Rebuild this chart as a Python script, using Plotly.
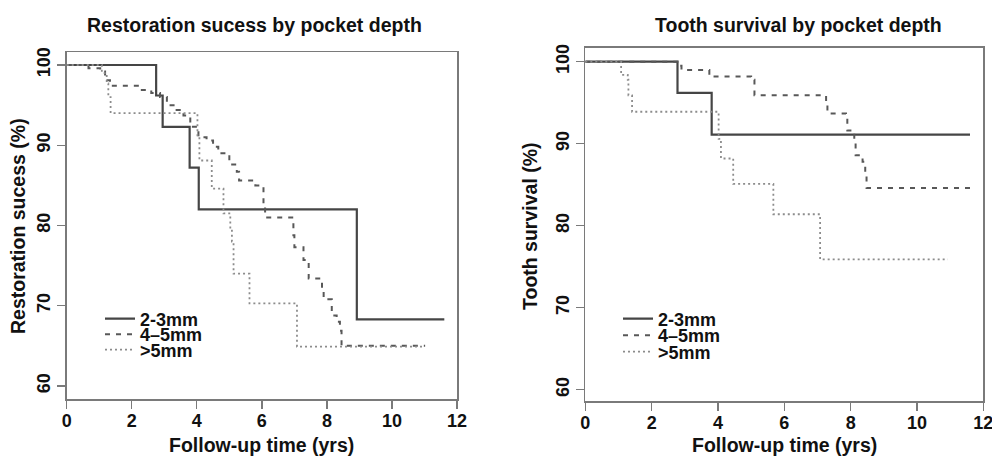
import plotly.graph_objects as go

# ---- Data ----
groups = ["2-3mm", "4–5mm", ">5mm"]

# Left panel: Restoration success
rs_23_t = [0, 2.75, 2.95, 3.78, 4.06, 8.92, 11.61]
rs_23_v = [100, 96.2, 92.3, 87.2, 82.0, 68.3, 68.3]

rs_45_t = [0, 0.67, 1.03, 1.18, 1.33, 2.26, 2.6, 2.87, 3.08, 3.38, 3.59, 3.8, 4.05, 4.3, 4.5,
           4.66, 5.0, 5.23, 5.3, 5.8, 6.05, 6.1, 6.97, 7.0, 7.28, 7.44, 7.85, 7.9, 8.15, 8.3,
           8.4, 8.45, 11.02]
rs_45_v = [100, 99.6, 99.2, 98.1, 97.4, 96.9, 96.5, 96.0, 95.0, 94.4, 93.7, 92.3, 91.0, 90.6, 89.8,
           89.0, 87.6, 86.7, 85.6, 85.0, 82.5, 81.0, 78.8, 77.3, 75.7, 73.4, 72.1, 70.8, 68.8, 68.0,
           66.9, 65.0, 65.0]

rs_5_t = [0, 1.08, 1.23, 1.28, 1.35, 4.02, 4.08, 4.46, 4.82, 5.03, 5.08, 5.13, 5.62, 7.08, 11.0]
rs_5_v = [100, 99.0, 97.7, 96.0, 94.0, 91.0, 88.1, 84.6, 81.5, 79.6, 78.0, 74.0, 70.3, 64.9, 64.9]

# Right panel: Tooth survival
ts_23_t = [0, 2.78, 3.81, 11.6]
ts_23_v = [100, 96.2, 91.1, 91.1]

ts_45_t = [0, 2.83, 2.9, 3.74, 5.0, 5.1, 7.26, 7.3, 7.86, 7.9, 8.11, 8.15, 8.36, 8.44, 8.48, 11.63]
ts_45_v = [100, 99.5, 99.0, 98.2, 97.8, 95.9, 94.9, 93.7, 93.1, 91.6, 90.4, 88.6, 87.8, 86.3, 84.6, 84.6]

ts_5_t = [0, 1.08, 1.28, 1.3, 1.41, 4.02, 4.09, 4.46, 5.67, 7.08, 10.93]
ts_5_v = [100, 98.4, 97.8, 95.9, 93.9, 90.6, 88.2, 85.1, 81.4, 75.9, 75.9]

x_ticks = [0, 2, 4, 6, 8, 10, 12]
y_ticks = [60, 70, 80, 90, 100]

titles = ["Restoration sucess by pocket depth", "Tooth survival by pocket depth"]
y_titles = ["Restoration sucess (%)", "Tooth survival (%)"]
x_title = "Follow-up time (yrs)"

# ---- Layout geometry (screen px of the 992x456 window) ----
FONT = "Liberation Sans, Arial, sans-serif"
OFF = 0
W, H = 992, 456


def px(sx):
    return (sx - OFF) / W


def py(sy):
    return (H - (sy - OFF)) / H


styles = [
    dict(color="#454545", width=2.2, dash="solid"),
    dict(color="#585858", width=2.0, dash="5px,6px"),
    dict(color="#8c8c8c", width=1.8, dash="2px,3px"),
]

fig = go.Figure()

panels = [
    ([(rs_23_t, rs_23_v), (rs_45_t, rs_45_v), (rs_5_t, rs_5_v)], "x", "y"),
    ([(ts_23_t, ts_23_v), (ts_45_t, ts_45_v), (ts_5_t, ts_5_v)], "x2", "y2"),
]

# one legend per entry so the rows can be spaced tightly like the original
legend_x = [100, 618]
legend_rows = [[319, 334.5, 350], [319, 335.5, 352]]
legend_layout = {}
k = 1
for p, (series, xa, ya) in enumerate(panels):
    for i, (name, (t, v), st) in enumerate(zip(groups, series, styles)):
        k += 1
        lname = f"legend{k}"
        fig.add_trace(go.Scatter(
            x=t, y=v, mode="lines", line=dict(shape="hv", **st),
            name=name, xaxis=xa, yaxis=ya, legend=lname, hoverinfo="skip",
        ))
        legend_layout[lname] = dict(
            x=px(legend_x[p]), y=py(legend_rows[p][i]), xanchor="left", yanchor="middle",
            bgcolor="rgba(0,0,0,0)", font=dict(family=FONT, size=18, weight="bold", color="#111111"),
            itemwidth=30, tracegroupgap=0,
        )

axis_common = dict(
    showgrid=False, zeroline=False, showline=True, mirror=True, automargin=False,
    linecolor="#7a7a7a", linewidth=1.5,
    ticks="outside", ticklen=8, tickcolor="#7a7a7a", tickwidth=1.3,
    ticklabeloverflow="allow",
    tickfont=dict(family=FONT, size=18, color="#111111", weight="bold"),
)

fig.update_layout(
    width=W, height=H,
    margin=dict(l=0, r=0, t=0, b=0, autoexpand=False),
    paper_bgcolor="white", plot_bgcolor="white",
    font=dict(family=FONT, color="#111111"),
    showlegend=True,
    xaxis=dict(domain=[px(66.7), px(457)], range=[0, 12], tickvals=x_ticks, anchor="y",
               ticklabelstandoff=-3, **axis_common),
    yaxis=dict(domain=[py(399), py(52)], range=[58.38, 101.62], tickvals=y_ticks,
               tickangle=-90, anchor="x", **axis_common),
    xaxis2=dict(domain=[px(585.3), px(983.3)], range=[0, 12], tickvals=x_ticks, anchor="y2",
                ticklabelstandoff=-3, **axis_common),
    yaxis2=dict(domain=[py(401.3), py(47.7)], range=[58.59, 101.71], tickvals=y_ticks,
                tickangle=-90, anchor="x2", **axis_common),
    **legend_layout,
)

ann_font = dict(family=FONT, size=19.5, weight="bold", color="#111111")
annotations = [
    dict(text=titles[0], x=254, y=25),
    dict(text=titles[1], x=798, y=25),
    dict(text=x_title, x=261, y=445),
    dict(text=x_title, x=784, y=445),
    dict(text=y_titles[0], x=18, y=226, textangle=-90),
    dict(text=y_titles[1], x=530, y=226, textangle=-90),
]
for a in annotations:
    fig.add_annotation(
        text=a["text"], x=px(a["x"]), y=py(a["y"]), xref="paper", yref="paper",
        showarrow=False, xanchor="center", yanchor="middle", textangle=a.get("textangle", 0),
        font=ann_font,
    )

# remove the default page margin / scrollbars so the figure fills the window exactly
page_css = ("document.body.style.margin='0';"
            "document.body.style.overflow='hidden';"
            "document.documentElement.style.overflow='hidden';")

fig.write_html("out.html", post_script=page_css,
               config={"displayModeBar": False, "staticPlot": True})
